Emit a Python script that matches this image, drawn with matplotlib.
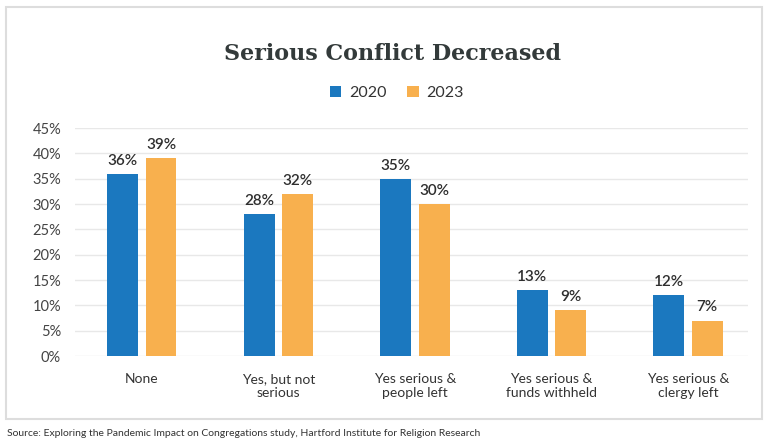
import matplotlib.pyplot as plt
import numpy as np
from matplotlib.patches import Rectangle

categories = ["None", "Yes, but not\nserious", "Yes serious &\npeople left",
              "Yes serious &\nfunds withheld", "Yes serious &\nclergy left"]
vals_2020 = [36, 28, 35, 13, 12]
vals_2023 = [39, 32, 30, 9, 7]
yticks = [0, 5, 10, 15, 20, 25, 30, 35, 40, 45]

blue = "#1b78bf"
orange = "#f8b04e"

plt.rcParams['font.family'] = ['Lato', 'DejaVu Sans']

fig = plt.figure(figsize=(7.68, 4.45), dpi=100)
ax = fig.add_axes([75/768, 1 - 356/445, (748 - 75)/768, (356 - 128)/445])

x = np.arange(len(categories))
w = 0.227
off = 0.14
b1 = ax.bar(x - off, vals_2020, w, color=blue, label="2020", zorder=3)
b2 = ax.bar(x + off, vals_2023, w, color=orange, label="2023", zorder=3)

for bars, vals in [(b1, vals_2020), (b2, vals_2023)]:
    for b, v in zip(bars, vals):
        ax.text(b.get_x() + b.get_width()/2, v + 1.2, "{}%".format(v),
                ha="center", va="bottom", fontsize=11, color="#2e2e2e",
                fontweight="semibold")

ax.set_xlim(-0.49, 4.44)
ax.set_ylim(0, 45)
ax.set_yticks(yticks)
ax.set_yticklabels(["{}%".format(t) for t in yticks])
ax.set_xticks(x)
ax.set_xticklabels(categories)
ax.tick_params(axis="y", length=0, pad=10, labelsize=10.5, labelcolor="#444444")
ax.tick_params(axis="x", length=0, pad=12, labelsize=10, labelcolor="#333333")
ax.grid(axis="y", color="#e8e8e8", linewidth=1, zorder=0)
for s in ax.spines.values():
    s.set_visible(False)

fig.text(392/768, 1 - 54/445, "Serious Conflict Decreased", ha="center", va="center",
         fontsize=16, fontweight="bold", color="#333a3a", family="DejaVu Serif")

fig.legend(handles=[b1, b2], loc="center", bbox_to_anchor=(397/768, 1 - 93/445),
           ncol=2, frameon=False, fontsize=11.5, handlelength=0.7, handleheight=0.7,
           handletextpad=0.5, columnspacing=1.3, labelcolor="#333333")

fig.patches.append(Rectangle((6/768, 1 - 419/445), (762 - 6)/768, (419 - 7)/445,
                             transform=fig.transFigure, fill=False,
                             edgecolor="#dddddd", linewidth=1.5))

fig.text(7/768, 1 - 433/445,
         "Source: Exploring the Pandemic Impact on Congregations study, Hartford Institute for Religion Research",
         ha="left", va="center", fontsize=7.5, color="#333333")

fig.savefig("out.png", dpi=100)
